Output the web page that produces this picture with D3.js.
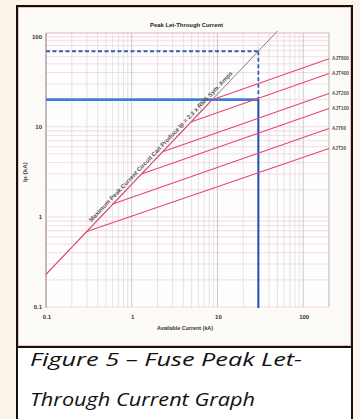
<!DOCTYPE html>
<html>
<head>
<meta charset="utf-8">
<script src="https://cdn.jsdelivr.net/npm/d3@7"></script>
<style>
  html, body { margin: 0; padding: 0; background: #fcf3ea; }
  svg { display: block; }
</style>
</head>
<body>
<svg id="chart" width="360" height="419"></svg>
<script>
// data
const fuseNames = ["AJT800", "AJT400", "AJT200", "AJT100", "AJT60", "AJT30"];
const branchKA = [8.7, 4.9, 2.3, 1.3, 0.6, 0.3];     // where curve leaves the 2.3x line
const branchPeak = [20, 11.3, 5.3, 3.0, 1.39, 0.69];
const endKA = 200;
const endPeak = [57, 39, 23.4, 16, 9.6, 5.75];

const diagKA = [0.1, 47.8];
const diagPeak = [0.23, 110];

const availKA = 30;
const maxPeak = 69;   // 2.3 x 30
const letThrough = 20;

const xTickVals = [0.1, 1, 10, 100];
const xTickLabels = ["0.1", "1", "10", "100"];
const yTickVals = [0.1, 1, 10, 100];
const yTickLabels = ["0.1", "1", "10", "100"];

// layout
const svg = d3.select("#chart");
const m = {left: 46, right: 329, top: 33, bottom: 307};
const x = d3.scaleLog().domain([0.1, 200]).range([m.left, m.right]);
const y = d3.scaleLog().domain([0.1, 110]).range([m.bottom, m.top]);
const font = "Liberation Sans, Arial, sans-serif";

// frame
svg.append("rect").attr("x", 17).attr("y", 6).attr("width", 335).attr("height", 341).attr("fill", "#fcfbf8");
svg.append("rect").attr("x", 17).attr("y", 347).attr("width", 335).attr("height", 80).attr("fill", "#ffffff");
svg.append("rect").attr("x", 18.5).attr("y", 7.5).attr("width", 332).attr("height", 338)
  .attr("fill", "none").attr("stroke", "#efc3b4").attr("stroke-width", 1);

// plot bg
svg.append("rect").attr("x", m.left).attr("y", m.top)
  .attr("width", m.right - m.left).attr("height", m.bottom - m.top).attr("fill", "#fefefe");

// grid
const g = svg.append("g");
g.selectAll(".hg").data(y.ticks()).join("line")
  .attr("x1", m.left).attr("x2", m.right)
  .attr("y1", d => y(d)).attr("y2", d => y(d))
  .attr("stroke", "#f3ccd3").attr("stroke-width", 0.7);
g.selectAll(".vg").data(x.ticks()).join("line")
  .attr("x1", d => x(d)).attr("x2", d => x(d))
  .attr("y1", m.top).attr("y2", m.bottom)
  .attr("stroke", d => xTickVals.includes(d) ? "#b4b4b4" : "#d8d8d8").attr("stroke-width", 0.7);

svg.append("line").attr("x1", m.left).attr("x2", m.right).attr("y1", m.top).attr("y2", m.top)
  .attr("stroke", "#eab0ba").attr("stroke-width", 1.2);
svg.append("line").attr("x1", m.left).attr("x2", m.left).attr("y1", m.top).attr("y2", m.bottom + 1)
  .attr("stroke", "#b49aa3").attr("stroke-width", 1.2);
svg.append("line").attr("x1", m.right).attr("x2", m.right).attr("y1", m.top).attr("y2", m.bottom)
  .attr("stroke", "#c4c4c4").attr("stroke-width", 1);

// blue marker lines
const blueDash = "#2f5fbf";
svg.append("line").attr("x1", x(0.1)).attr("x2", x(availKA)).attr("y1", y(maxPeak)).attr("y2", y(maxPeak))
  .attr("stroke", blueDash).attr("stroke-width", 1.8).attr("stroke-dasharray", "4,2.5");
svg.append("line").attr("x1", x(availKA)).attr("x2", x(availKA)).attr("y1", y(maxPeak)).attr("y2", y(letThrough))
  .attr("stroke", blueDash).attr("stroke-width", 1.8).attr("stroke-dasharray", "4,2.5");
svg.append("line").attr("x1", x(0.1)).attr("x2", x(availKA)).attr("y1", y(letThrough)).attr("y2", y(letThrough))
  .attr("stroke", "#3f7fcf").attr("stroke-width", 2.8);
svg.append("line").attr("x1", x(availKA)).attr("x2", x(availKA)).attr("y1", y(letThrough)).attr("y2", m.bottom + 1)
  .attr("stroke", "#1f4fae").attr("stroke-width", 2);

// 2.3x max peak line
svg.append("line").attr("x1", x(diagKA[0])).attr("y1", y(diagPeak[0]))
  .attr("x2", x(diagKA[1]) + 2).attr("y2", y(diagPeak[1]) - 2.2)
  .attr("stroke", "#808080").attr("stroke-width", 1);

// fuse curves (shared diagonal part in red)
const red = "#e5476e";
svg.append("line").attr("x1", x(diagKA[0])).attr("y1", y(diagPeak[0]))
  .attr("x2", x(branchKA[0])).attr("y2", y(branchPeak[0]))
  .attr("stroke", red).attr("stroke-width", 1.1);
const line = d3.line().x(d => x(d[0])).y(d => y(d[1]));
fuseNames.forEach((name, i) => {
  svg.append("path")
    .attr("d", line([[branchKA[i], branchPeak[i]], [endKA, endPeak[i]]]))
    .attr("fill", "none").attr("stroke", red).attr("stroke-width", 1.1);
  svg.append("text")
    .attr("x", 332).attr("y", y(endPeak[i]) + 1.5)
    .attr("font-family", font)
    .attr("font-size", 5).attr("font-weight", "bold").attr("fill", "#555")
    .attr("textLength", name.length > 5 ? 17 : 14).attr("lengthAdjust", "spacingAndGlyphs")
    .text(name);
});

// label along the diagonal
const p0 = [x(0.36), y(0.36 * 2.3)];
const p1 = [x(40), y(40 * 2.3)];
const ang = Math.atan2(p1[1] - p0[1], p1[0] - p0[0]) * 180 / Math.PI;
svg.append("text")
  .attr("transform", `translate(${p0[0]},${p0[1]}) rotate(${ang}) translate(0,-3)`)
  .attr("font-family", font)
  .attr("font-size", 6).attr("font-weight", "bold").attr("fill", "#555")
  .attr("textLength", 205).attr("lengthAdjust", "spacingAndGlyphs")
  .text("Maximum Peak Current Circuit Can Produce  Ip = 2.3 x RMS Sym. Amps");

// axes labels
svg.selectAll(".xt").data(xTickVals).join("text")
  .attr("x", d => x(d) + 1).attr("y", 319).attr("text-anchor", "middle")
  .attr("font-family", font).attr("font-size", 6).attr("font-weight", "bold").attr("fill", "#333")
  .text((d, i) => xTickLabels[i]);
svg.selectAll(".yt").data(yTickVals).join("text")
  .attr("x", 42).attr("y", d => y(d) + 2).attr("text-anchor", "end")
  .attr("font-family", font).attr("font-size", 6).attr("font-weight", "bold").attr("fill", "#333")
  .text((d, i) => yTickLabels[i]);

svg.append("text").attr("x", 150).attr("y", 27)
  .attr("font-family", font).attr("font-size", 6).attr("font-weight", "bold").attr("fill", "#222")
  .attr("textLength", 73).attr("lengthAdjust", "spacingAndGlyphs")
  .text("Peak Let-Through Current");
svg.append("text").attr("x", 157).attr("y", 330)
  .attr("font-family", font).attr("font-size", 5.5).attr("font-weight", "bold").attr("fill", "#333")
  .attr("textLength", 56).attr("lengthAdjust", "spacingAndGlyphs")
  .text("Available Current (kA)");
svg.append("text").attr("transform", "translate(27,182) rotate(-90)")
  .attr("font-family", font).attr("font-size", 5.5).attr("font-weight", "bold").attr("fill", "#444")
  .attr("textLength", 20).attr("lengthAdjust", "spacingAndGlyphs")
  .text("Ip (kA)");

// outer black box
svg.append("rect").attr("x", 17).attr("y", 6).attr("width", 335).attr("height", 430)
  .attr("fill", "none").attr("stroke", "#111").attr("stroke-width", 2);
svg.append("line").attr("x1", 17).attr("x2", 352).attr("y1", 347).attr("y2", 347)
  .attr("stroke", "#111").attr("stroke-width", 2);

// caption
const cap = ["Figure 5 \u2013 Fuse Peak Let-", "Through Current Graph"];
const capW = [272, 225];
cap.forEach((t, i) => {
  svg.append("text").attr("x", 30).attr("y", 366 + i * 40)
    .attr("font-family", "Open Sans, sans-serif").attr("font-style", "italic")
    .attr("font-size", 19).attr("fill", "#111")
    .attr("textLength", capW[i]).attr("lengthAdjust", "spacingAndGlyphs")
    .text(t);
});
</script>
</body>
</html>
